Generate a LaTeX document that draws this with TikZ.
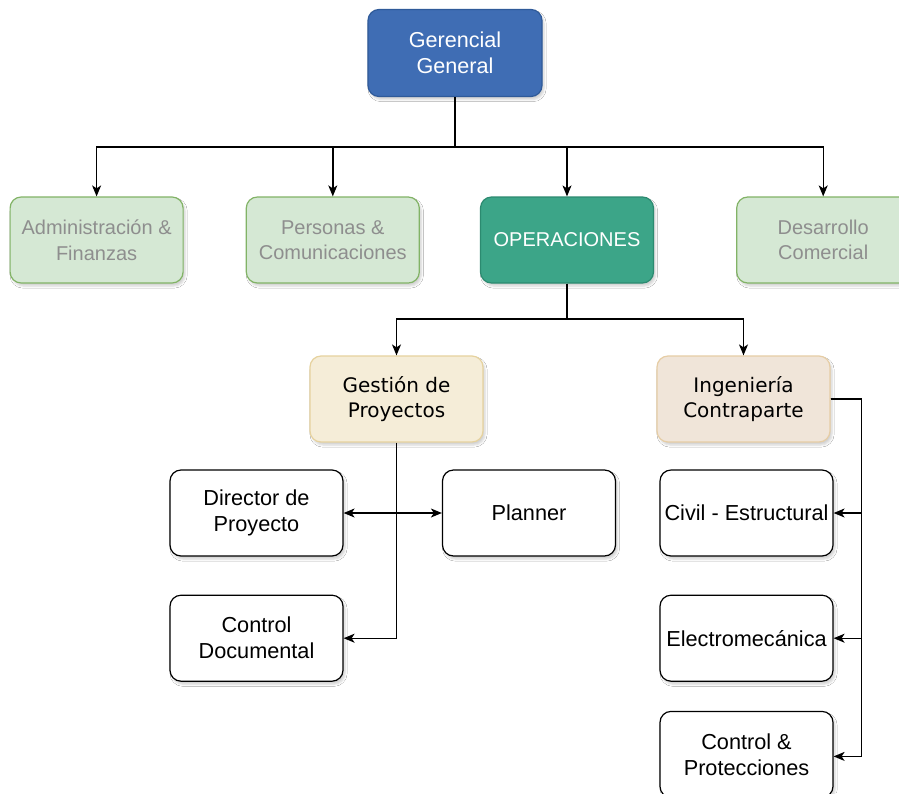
\documentclass[tikz,border=0pt]{standalone}
\usepackage{fontspec}
\setmainfont{Liberation Sans}
\newfontfamily\dejavu{DejaVu Sans}
\usetikzlibrary{positioning, arrows.meta, shadows.blur}

\definecolor{ggfill}{HTML}{3F6DB4}
\definecolor{ggline}{HTML}{2F5A99}
\definecolor{grfill}{HTML}{D5E8D4}
\definecolor{grline}{HTML}{82B366}
\definecolor{grtext}{HTML}{8E8E8E}
\definecolor{opfill}{HTML}{3CA588}
\definecolor{opline}{HTML}{2C8A70}
\definecolor{gpfill}{HTML}{F5EDD8}
\definecolor{gpline}{HTML}{E6D29E}
\definecolor{infill}{HTML}{F0E5D9}
\definecolor{inline}{HTML}{E6CDA5}

\begin{document}
\begin{tikzpicture}[x=1pt, y=-1pt, node distance=38pt,
    box/.style={draw, rounded corners=11pt, line width=1.2pt, minimum width=173pt,
        minimum height=86pt, align=center, font=\fontsize{20}{25.5}\selectfont,
        blur shadow={shadow xshift=2pt, shadow yshift=-3pt, shadow opacity=18}},
    gerbox/.style={box, fill=ggfill, draw=ggline, text=white, font=\fontsize{21.6}{26}\selectfont},
    areabox/.style={box, fill=grfill, draw=grline, text=grtext},
    opbox/.style={box, fill=opfill, draw=opline, text=white},
    subbox/.style={box, font=\dejavu\fontsize{20}{25.5}\selectfont},
    rolebox/.style={box, fill=white, draw=black, font=\fontsize{21.7}{26}\selectfont},
    arr/.style={-{Stealth[length=11pt, width=9pt, inset=3pt]}, line width=1.4pt},
    arrs/.style={{Stealth[length=11pt, width=9pt, inset=3pt]}-{Stealth[length=11pt, width=9pt, inset=3pt]}, line width=1.4pt}]

    \useasboundingbox (0,0) rectangle (899,793);
    \clip (0,0) rectangle (899,793);
    \fill[white] (0,0) rectangle (899,793);

    % top
    \node[gerbox, minimum width=174pt, minimum height=87pt] (gg) at (455,53) {Gerencial\\General};

    % areas
    \node[opbox] (ops) at (567,240) {OPERACIONES};
    \node[areabox, left=60pt of ops] (pers) {Personas \&\\Comunicaciones};
    \node[areabox, left=62pt of pers] (adm) {Administración \&\\Finanzas};
    \node[areabox, right=82pt of ops] (des) {Desarrollo\\Comercial};

    \coordinate (bus1) at (455,147);
    \foreach \n in {adm, pers, ops, des}
        \draw[arr] (gg.south) -- (bus1) -| (\n.north);

    % operaciones
    \node[subbox, fill=gpfill, draw=gpline] (gp) at (396.5,399) {Gestión de\\Proyectos};
    \node[subbox, fill=infill, draw=inline] (ing) at (743.5,399) {Ingeniería\\Contraparte};

    \coordinate (bus2) at (567,319);
    \draw[arr] (ops.south) -- (bus2) -| (gp.north);
    \draw[arr] (ops.south) -- (bus2) -| (ing.north);

    % gestion de proyectos
    \node[rolebox] (dir) at (256.5,513) {Director de\\Proyecto};
    \node[rolebox] (plan) at (529,513) {Planner};
    \node[rolebox, below=of dir] (cdoc) {Control\\Documental};

    \draw[arr] (gp.south) |- (cdoc.east);
    \draw[arrs] (dir.east) -- (plan.west);

    % ingenieria
    \node[rolebox] (civ) at (746.5,513) {Civil - Estructural};
    \node[rolebox, below=of civ] (elec) {Electromecánica};
    \node[rolebox, below=29pt of elec] (cprot) {Control \&\\Protecciones};

    \coordinate (ingr) at ([xshift=31pt]ing.east);
    \foreach \n in {civ, elec}
        \draw[arr] (ing.east) -- (ingr) |- (\n.east);
    \draw[arr] (ing.east) -- (ingr) |- ([yshift=-2pt]cprot.east);
\end{tikzpicture}
\end{document}
